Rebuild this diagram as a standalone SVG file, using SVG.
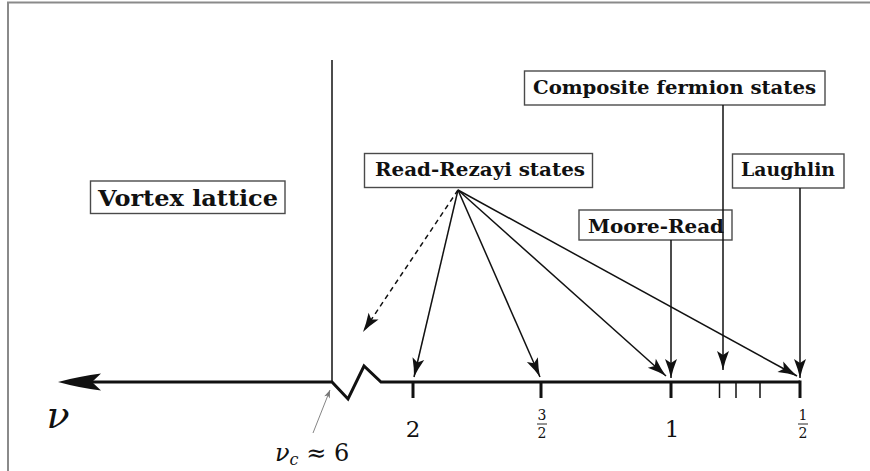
<svg xmlns="http://www.w3.org/2000/svg" width="870" height="471" viewBox="0 0 870 471">
<defs>
<style>
.box{fill:#fff;stroke:#4a4a4a;stroke-width:1.4}
.lbl{font-family:"DejaVu Serif",serif;font-weight:bold;fill:#111}
.num{font-family:"DejaVu Serif",serif;fill:#111}
.con{stroke:#111;stroke-width:1.5;fill:none}
.axis{stroke:#111;stroke-width:3;fill:none}
</style>
<marker id="ah" viewBox="-20 -7 21 14" refX="0" refY="0" markerWidth="21" markerHeight="14" markerUnits="userSpaceOnUse" orient="auto">
<path d="M0,0 Q-9,-2 -19,-6 L-15,0 L-19,6 Q-9,2 0,0 Z" fill="#111"/>
</marker>
<marker id="ahs" viewBox="-10 -4 11 8" refX="0" refY="0" markerWidth="11" markerHeight="8" markerUnits="userSpaceOnUse" orient="auto">
<path d="M0,0 L-8,-3 L-6,0 L-8,3 Z" fill="#777"/>
</marker>
</defs>
<rect width="870" height="471" fill="#fff"/>
<path d="M8,471 L8,2.5 L870,2.5" fill="none" stroke="#8a8a8a" stroke-width="2"/>

<g id="axis">
<path d="M58,382 Q80,376 101,373.5 L92,382 L101,390.5 Q80,388 58,382 Z" fill="#111"/>
<path class="axis" d="M92,382 L332,382 L348,399 L364,366 L381,382 L800,382"/>
<line x1="332" y1="60" x2="332" y2="382" class="con"/>
<g class="axis">
<line x1="413" y1="382" x2="413" y2="398"/>
<line x1="541" y1="382" x2="541" y2="398"/>
<line x1="671" y1="382" x2="671" y2="398"/>
<line x1="800" y1="380.5" x2="800" y2="398"/>
</g>
<g class="con">
<line x1="719.5" y1="382" x2="719.5" y2="398"/>
<line x1="736" y1="382" x2="736" y2="398"/>
<line x1="760" y1="382" x2="760" y2="398"/>
</g>
<text x="58" y="428" class="num" font-style="italic" font-size="38" text-anchor="middle">ν</text>
<text x="413" y="437" class="num" font-size="23" text-anchor="middle">2</text>
<text x="672" y="437" class="num" font-size="23" text-anchor="middle">1</text>
<text x="542" y="420" class="num" font-size="14" text-anchor="middle">3</text>
<line x1="537" y1="424" x2="547" y2="424" stroke="#111" stroke-width="0.9"/>
<text x="542" y="438" class="num" font-size="14" text-anchor="middle">2</text>
<text x="803" y="420" class="num" font-size="14" text-anchor="middle">1</text>
<line x1="798" y1="424" x2="808" y2="424" stroke="#111" stroke-width="0.9"/>
<text x="803" y="438" class="num" font-size="14" text-anchor="middle">2</text>
<text x="275" y="461" class="num" font-size="24"><tspan font-style="italic">ν</tspan><tspan font-style="italic" font-size="16" dy="4">c</tspan><tspan dy="-4"> ≈ 6</tspan></text>
</g>

<g id="vortex">
<rect class="box" x="90.5" y="181" width="194.5" height="32.5"/>
<text class="lbl" x="98" y="206" font-size="22" textLength="180" lengthAdjust="spacingAndGlyphs">Vortex lattice</text>
</g>
<g id="readrezayi">
<rect class="box" x="364.5" y="153.5" width="228" height="34"/>
<text class="lbl" x="375" y="176" font-size="19" textLength="210" lengthAdjust="spacingAndGlyphs">Read-Rezayi states</text>
</g>
<g id="composite">
<rect class="box" x="524.5" y="71" width="300.5" height="34"/>
<text class="lbl" x="533" y="93.5" font-size="19" textLength="283" lengthAdjust="spacingAndGlyphs">Composite fermion states</text>
</g>
<g id="laughlin">
<rect class="box" x="732.5" y="154" width="111.5" height="34"/>
<text class="lbl" x="741" y="176" font-size="19" textLength="94" lengthAdjust="spacingAndGlyphs">Laughlin</text>
</g>
<g id="mooreread">
<rect class="box" x="579" y="210" width="153" height="30"/>
<text class="lbl" x="588" y="233" font-size="19" textLength="136" lengthAdjust="spacingAndGlyphs">Moore-Read</text>
</g>

<g id="connectors">
<line class="con" x1="458" y1="190" x2="414" y2="377" marker-end="url(#ah)"/>
<line class="con" x1="458" y1="190" x2="540" y2="377" marker-end="url(#ah)"/>
<line class="con" x1="458" y1="190" x2="666" y2="376" marker-end="url(#ah)"/>
<line class="con" x1="458" y1="190" x2="797" y2="376" marker-end="url(#ah)"/>
<line class="con" x1="458" y1="190" x2="363" y2="332" stroke-dasharray="5 4" marker-end="url(#ah)"/>
<line class="con" x1="671" y1="240" x2="671" y2="378" marker-end="url(#ah)"/>
<line class="con" x1="723" y1="105" x2="723" y2="370" marker-end="url(#ah)"/>
<line class="con" x1="800" y1="188" x2="800" y2="378" marker-end="url(#ah)"/>
<line x1="313" y1="433" x2="330" y2="390" stroke="#777" stroke-width="0.9" marker-end="url(#ahs)"/>
</g>
</svg>
